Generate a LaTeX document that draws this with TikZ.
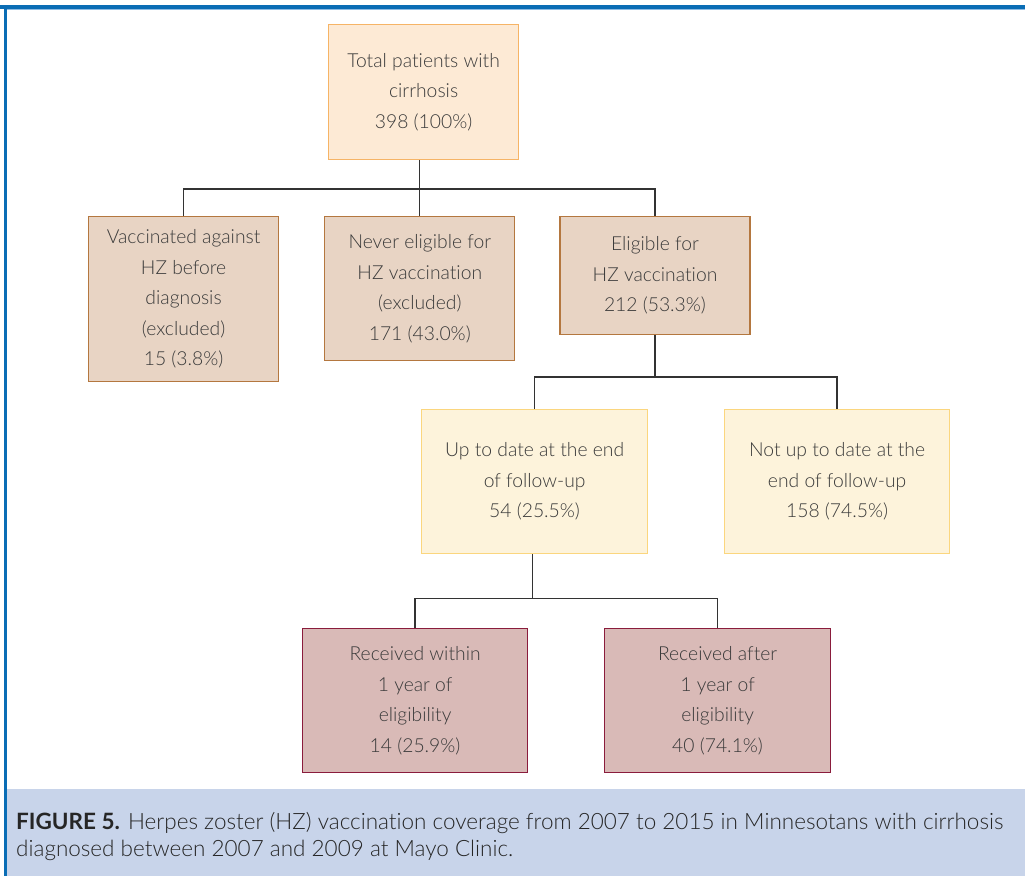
\documentclass[tikz,border=0pt]{standalone}
\usepackage{fontspec}
\setmainfont{Lato}[UprightFont={* Light}, BoldFont={* Bold}, RawFeature={-liga}]
\usetikzlibrary{positioning,calc}
\definecolor{totfill}{HTML}{FDEAD5}
\definecolor{totline}{HTML}{F6B466}
\definecolor{tanfill}{HTML}{E8D4C4}
\definecolor{tanline}{HTML}{B4773F}
\definecolor{yelfill}{HTML}{FDF3DB}
\definecolor{yelline}{HTML}{FBD67E}
\definecolor{redfill}{HTML}{D9BAB7}
\definecolor{redline}{HTML}{8A1C3C}
\definecolor{capfill}{HTML}{C8D4EA}
\definecolor{frameblue}{HTML}{0A6DB5}
\definecolor{framelight}{HTML}{8DBBE3}
\definecolor{txtgray}{HTML}{3A3A3A}
\definecolor{linkgray}{HTML}{333333}
\tikzset{
  fc/box/.style={draw, line width=1.2pt, align=center, inner sep=4pt, anchor=north west,
    text=txtgray, font=\fontsize{19.3}{30.5}\selectfont},
  fc/total/.style={fc/box, fill=totfill, draw=totline, minimum width=190pt, minimum height=135pt},
  fc/excl/.style={fc/box, fill=tanfill, draw=tanline, minimum width=190pt},
  fc/status/.style={fc/box, fill=yelfill, draw=yelline, minimum width=226pt, minimum height=144pt},
  fc/timing/.style={fc/box, fill=redfill, draw=redline, minimum width=226pt, minimum height=144pt},
  fc/link/.style={draw=linkgray, line width=1.3pt},
  fc/caption/.style={anchor=north west, align=left, inner sep=0pt, text=black!85,
    font=\fontsize{22.5}{27}\selectfont}
}

\begin{document}
\begin{tikzpicture}[x=1pt, y=-1pt]
  \useasboundingbox (0,0) rectangle (1025,876);
  % frame and caption band
  \fill[capfill] (7,789) rectangle (1025,876);
  \fill[frameblue] (0,5) rectangle (1025,8.5);
  \draw[framelight, line width=1pt] (7,9.3) -- (1025,9.3);
  \fill[frameblue] (4,5) rectangle (7,876);

  \node[fc/total] (total) at (328,24) {Total patients with\\cirrhosis\\398 (100\%)};
  \node[fc/excl, minimum height=165pt] (vacc) at (88,216) {Vaccinated against\\HZ before\\diagnosis\\(excluded)\\15 (3.8\%)};
  \node[fc/excl, minimum height=144pt, right=45pt of vacc.north east, anchor=north west] (never) {Never eligible for\\HZ vaccination\\(excluded)\\171 (43.0\%)};
  \node[fc/excl, minimum height=118pt, right=44pt of never.north east, anchor=north west] (elig) {Eligible for\\HZ vaccination\\212 (53.3\%)};

  \node[fc/status] (uptodate) at (421,409) {Up to date at the end\\of follow-up\\54 (25.5\%)};
  \node[fc/status, minimum width=225pt] (notup) at (724,409) {Not up to date at the\\end of follow-up\\158 (74.5\%)};

  \node[fc/timing, minimum width=225pt] (within) at (302,628) {Received within\\1 year of\\eligibility\\14 (25.9\%)};
  \node[fc/timing] (after) at (604,628) {Received after\\1 year of\\eligibility\\40 (74.1\%)};

  \coordinate (bus1) at (never |- 0,189);
  \coordinate (bus2) at (elig |- 0,377);
  \coordinate (bus3) at ($(uptodate.south)+(-2,44)$);

  \draw[fc/link] (total.south -| never) -- (never.north);
  \draw[fc/link] (vacc.north) |- (bus1) -| (elig.north);
  \draw[fc/link] (elig.south) -- (bus2);
  \draw[fc/link] (uptodate.north) |- (bus2) -| (notup.north);
  \draw[fc/link] (uptodate.south -| bus3) -- (bus3);
  \draw[fc/link] (within.north) |- (bus3) -| (after.north);

  \node[fc/caption] (cap) at (16,812) {\textbf{FIGURE 5.} Herpes zoster (HZ) vaccination coverage from 2007 to 2015 in Minnesotans with cirrhosis\\diagnosed between 2007 and 2009 at Mayo Clinic.};
\end{tikzpicture}
\end{document}
